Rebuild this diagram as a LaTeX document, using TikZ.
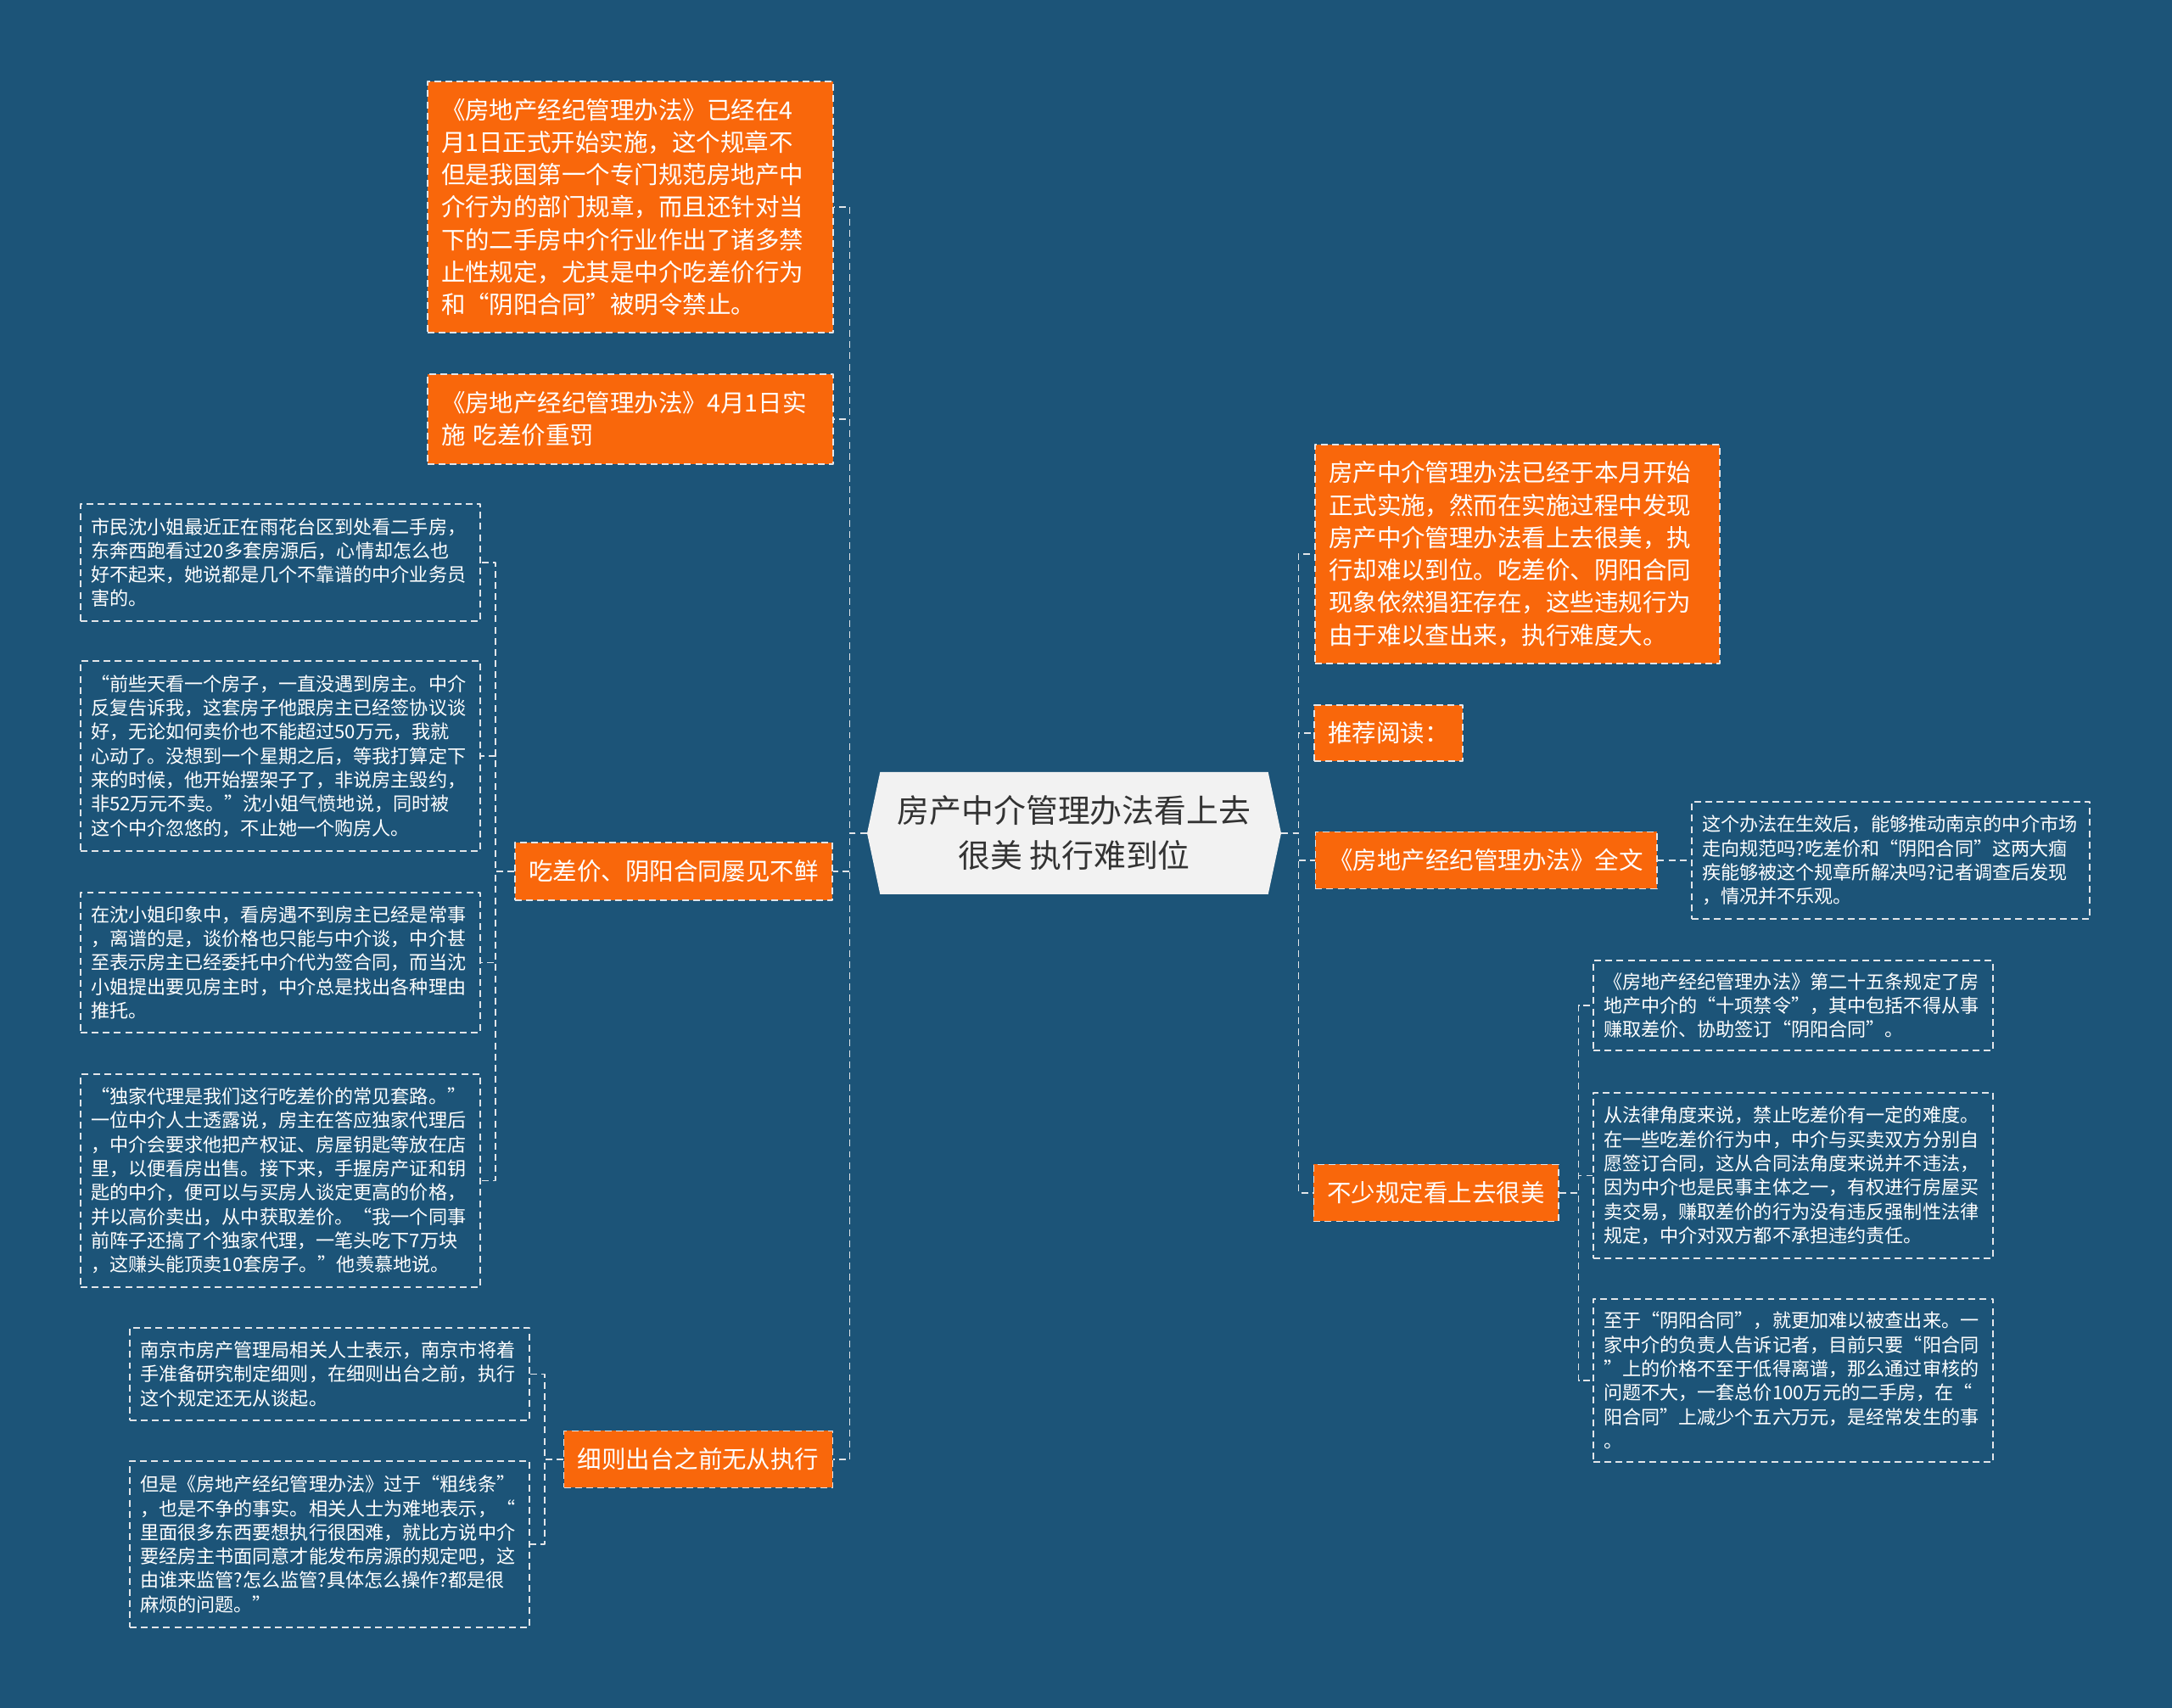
\documentclass[tikz,border=0pt]{standalone}
\usepackage{fontspec}
\setmainfont{Noto Sans CJK SC}
\usetikzlibrary{shapes.symbols}
\definecolor{bgblue}{RGB}{28,84,120}
\definecolor{topicorange}{RGB}{249,103,11}
\definecolor{rootgray}{RGB}{242,242,242}
\definecolor{roottext}{RGB}{51,51,51}
\definecolor{linegray}{RGB}{226,229,233}
\tikzset{
  link/.style={draw=linegray,line width=0.8pt,dash pattern=on 4pt off 2.6pt},
  rootbox/.style={shape=signal,signal to=west and east,signal pointer angle=156,
    fill=rootgray,text=roottext,align=center,inner sep=0pt,
    font=\fontsize{19}{26.6}\selectfont},
  topicbox/.style={draw=linegray,line width=0.8pt,dash pattern=on 4pt off 2.6pt,
    fill=topicorange,text=white,inner xsep=8bp,inner ysep=3bp,
    font=\fontsize{14.3}{19.2}\selectfont},
  notebox/.style={draw=linegray,line width=0.8pt,dash pattern=on 4pt off 2.6pt,
    text=white,inner xsep=6bp,inner ysep=3bp,align=left,text width=223.5bp,
    font=\fontsize{11.1}{14.2}\selectfont},
}
\begin{document}
\begin{tikzpicture}[line join=bevel,]
%%
\fill [bgblue] (0bp,0bp) rectangle (1280bp,1006.5bp);
\useasboundingbox (0bp,0bp) rectangle (1280bp,1006.5bp);
\node (node_0) at (633bp,515.5bp) [rootbox,minimum width=244bp,minimum height=72bp] {房产中介管理办法看上去\\很美 执行难到位};
  \node (node_1) at (371.5bp,884.5bp) [topicbox,align=left,text width=223bp,minimum height=148bp] {《房地产经纪管理办法》已经在4\\月1日正式开始实施，这个规章不\\但是我国第一个专门规范房地产中\\介行为的部门规章，而且还针对当\\下的二手房中介行业作出了诸多禁\\止性规定，尤其是中介吃差价行为\\和“阴阳合同”被明令禁止。};
  \node (node_2) at (371.5bp,759.5bp) [topicbox,align=left,text width=223bp,minimum height=53bp] {《房地产经纪管理办法》4月1日实\\施 吃差价重罚};
  \node (node_3) at (397bp,493bp) [topicbox,align=center,minimum width=187bp,minimum height=34bp] {吃差价、阴阳合同屡见不鲜};
  \node (node_4) at (165.25bp,675bp) [notebox,minimum height=69bp] {市民沈小姐最近正在雨花台区到处看二手房，\\东奔西跑看过20多套房源后，心情却怎么也\\好不起来，她说都是几个不靠谱的中介业务员\\害的。};
  \node (node_5) at (165.25bp,561bp) [notebox,minimum height=112bp] {“前些天看一个房子，一直没遇到房主。中介\\反复告诉我，这套房子他跟房主已经签协议谈\\好，无论如何卖价也不能超过50万元，我就\\心动了。没想到一个星期之后，等我打算定下\\来的时候，他开始摆架子了，非说房主毁约，\\非52万元不卖。”沈小姐气愤地说，同时被\\这个中介忽悠的，不止她一个购房人。};
  \node (node_6) at (165.25bp,439.25bp) [notebox,minimum height=82.5bp] {在沈小姐印象中，看房遇不到房主已经是常事\\，离谱的是，谈价格也只能与中介谈，中介甚\\至表示房主已经委托中介代为签合同，而当沈\\小姐提出要见房主时，中介总是找出各种理由\\推托。};
  \node (node_7) at (165.25bp,310.75bp) [notebox,minimum height=125.5bp] {“独家代理是我们这行吃差价的常见套路。”\\一位中介人士透露说，房主在答应独家代理后\\，中介会要求他把产权证、房屋钥匙等放在店\\里，以便看房出售。接下来，手握房产证和钥\\匙的中介，便可以与买房人谈定更高的价格，\\并以高价卖出，从中获取差价。“我一个同事\\前阵子还搞了个独家代理，一笔头吃下7万块\\，这赚头能顶卖10套房子。”他羡慕地说。};
  \node (node_8) at (411.5bp,146.5bp) [topicbox,align=center,minimum width=158bp,minimum height=33.5bp] {细则出台之前无从执行};
  \node (node_9) at (194.25bp,196.75bp) [notebox,minimum height=54.5bp] {南京市房产管理局相关人士表示，南京市将着\\手准备研究制定细则，在细则出台之前，执行\\这个规定还无从谈起。};
  \node (node_10) at (194.25bp,96.5bp) [notebox,minimum height=98bp] {但是《房地产经纪管理办法》过于“粗线条”\\，也是不争的事实。相关人士为难地表示，“\\里面很多东西要想执行很困难，就比方说中介\\要经房主书面同意才能发布房源的规定吧，这\\由谁来监管?怎么监管?具体怎么操作?都是很\\麻烦的问题。”};
  \node (node_11) at (894.25bp,680bp) [topicbox,align=left,text width=222.5bp,minimum height=129bp] {房产中介管理办法已经于本月开始\\正式实施，然而在实施过程中发现\\房产中介管理办法看上去很美，执\\行却难以到位。吃差价、阴阳合同\\现象依然猖狂存在，这些违规行为\\由于难以查出来，执行难度大。};
  \node (node_12) at (818.25bp,574.5bp) [topicbox,align=center,minimum width=86.5bp,minimum height=33bp] {推荐阅读：};
  \node (node_13) at (875.75bp,499.5bp) [topicbox,align=center,minimum width=200.5bp,minimum height=33.5bp] {《房地产经纪管理办法》全文};
  \node (node_14) at (1114.25bp,499.5bp) [notebox,text width=222.5bp,minimum height=69bp] {这个办法在生效后，能够推动南京的中介市场\\走向规范吗?吃差价和“阴阳合同”这两大痼\\疾能够被这个规章所解决吗?记者调查后发现\\，情况并不乐观。};
  \node (node_15) at (846.25bp,303.5bp) [topicbox,align=center,minimum width=142.5bp,minimum height=33.5bp] {不少规定看上去很美};
  \node (node_16) at (1056.75bp,414bp) [notebox,minimum height=53bp] {《房地产经纪管理办法》第二十五条规定了房\\地产中介的“十项禁令”，其中包括不得从事\\赚取差价、协助签订“阴阳合同”。};
  \node (node_17) at (1056.75bp,313.75bp) [notebox,minimum height=97.5bp] {从法律角度来说，禁止吃差价有一定的难度。\\在一些吃差价行为中，中介与买卖双方分别自\\愿签订合同，这从合同法角度来说并不违法，\\因为中介也是民事主体之一，有权进行房屋买\\卖交易，赚取差价的行为没有违反强制性法律\\规定，中介对双方都不承担违约责任。};
  \node (node_18) at (1056.75bp,193bp) [notebox,minimum height=96bp] {至于“阴阳合同”，就更加难以被查出来。一\\家中介的负责人告诉记者，目前只要“阳合同\\”上的价格不至于低得离谱，那么通过审核的\\问题不大，一套总价100万元的二手房，在“\\阳合同”上减少个五六万元，是经常发生的事\\。};
  \draw [link] (node_0.west) -- ++(-10bp,0bp) |- (node_1.east);
  \draw [link] (node_0.west) -- ++(-10bp,0bp) |- (node_2.east);
  \draw [link] (node_0.west) -- ++(-10bp,0bp) |- (node_3.east);
  \draw [link] (node_0.west) -- ++(-10bp,0bp) |- (node_8.east);
  \draw [link] (node_3.west) -- ++(-11bp,0bp) |- (node_4.east);
  \draw [link] (node_3.west) -- ++(-11bp,0bp) |- (node_5.east);
  \draw [link] (node_3.west) -- ++(-11bp,0bp) |- (node_6.east);
  \draw [link] (node_3.west) -- ++(-11bp,0bp) |- (node_7.east);
  \draw [link] (node_8.west) -- ++(-11bp,0bp) |- (node_9.east);
  \draw [link] (node_8.west) -- ++(-11bp,0bp) |- (node_10.east);
  \draw [link] (node_0.east) -- ++(10bp,0bp) |- (node_11.west);
  \draw [link] (node_0.east) -- ++(10bp,0bp) |- (node_12.west);
  \draw [link] (node_0.east) -- ++(10bp,0bp) |- (node_13.west);
  \draw [link] (node_0.east) -- ++(10bp,0bp) |- (node_15.west);
  \draw [link] (node_13.east) -- (node_14.west);
  \draw [link] (node_15.east) -- ++(11.5bp,0bp) |- (node_16.west);
  \draw [link] (node_15.east) -- ++(11.5bp,0bp) |- (node_17.west);
  \draw [link] (node_15.east) -- ++(11.5bp,0bp) |- (node_18.west);
%
\end{tikzpicture}
\end{document}
